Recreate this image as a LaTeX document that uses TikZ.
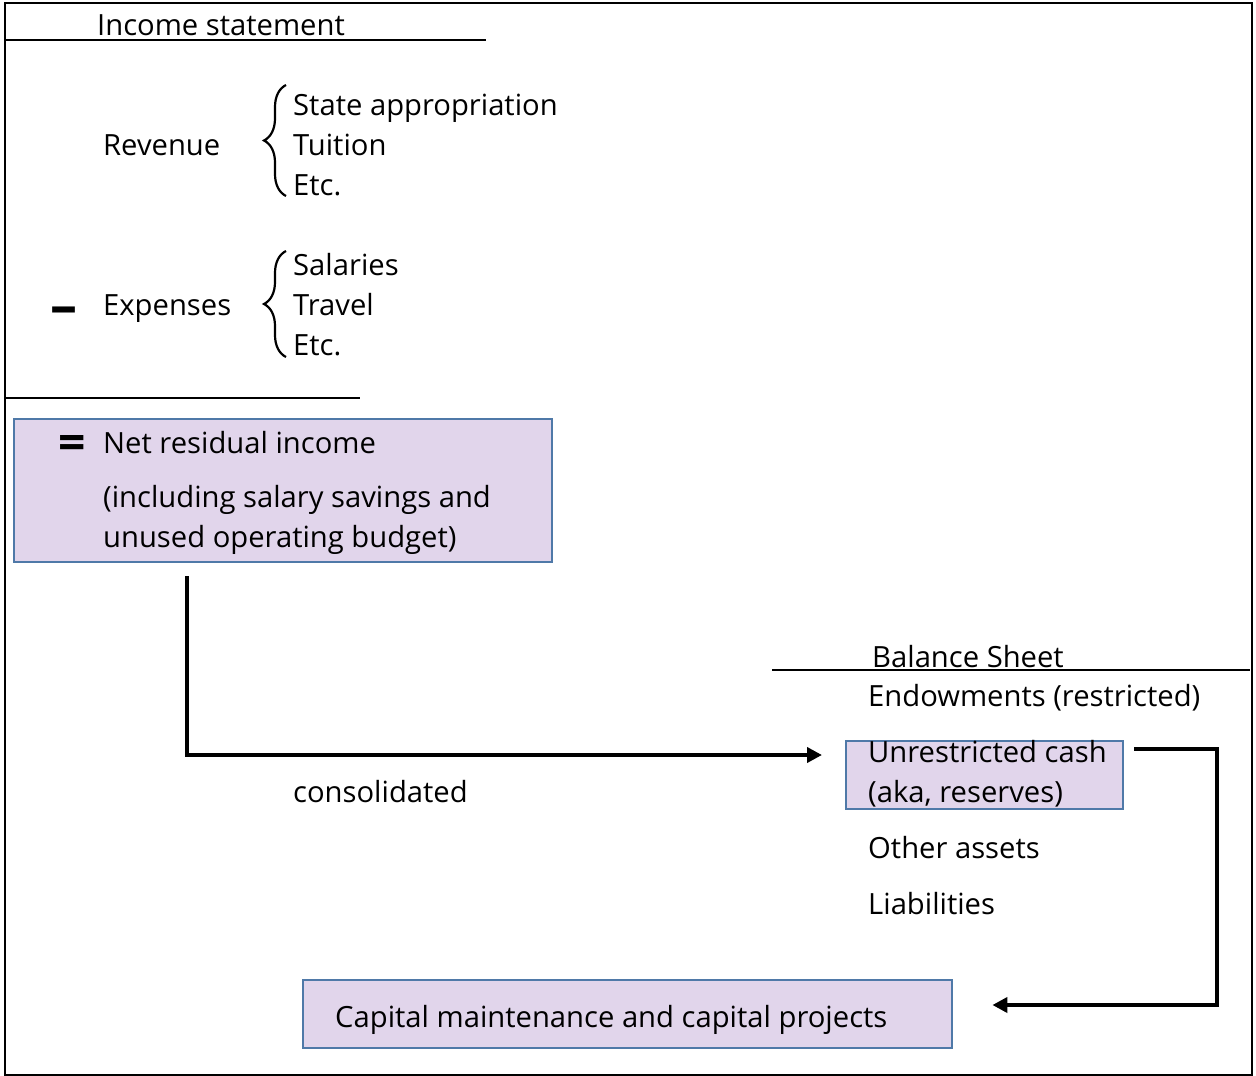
\documentclass[tikz,border=0pt]{standalone}
\usepackage{fontspec}
\setmainfont{Open Sans}
\usetikzlibrary{decorations.pathreplacing,arrows.meta}
\definecolor{boxfill}{HTML}{E1D5EB}
\definecolor{boxline}{HTML}{4F79A8}
\begin{document}
\begin{tikzpicture}[x=1pt,y=-1pt,
  txt/.style={anchor=base west, inner sep=0pt, font=\fontsize{29.2}{40}\selectfont},
  hbox/.style={draw=boxline, fill=boxfill, line width=2.4pt, anchor=north west, inner sep=0pt},
  conn/.style={line width=4pt, -{Triangle[length=15pt,width=15pt]}},
  rule/.style={line width=2pt},
  brc/.style={decorate, decoration={brace, amplitude=22pt}, line width=2.2pt}]
\useasboundingbox (0,0) rectangle (1256,1076);
\draw[line width=2pt] (5,3) rectangle (1252,1075);

% Income statement
\node[txt] (inc) at (97,35) {Income statement};
\coordinate (incL) at (5,40);
\coordinate (incR) at (486,40);
\draw[rule] (incL) -- (incR);

\node[txt] (rev) at (103,155) {Revenue};
\coordinate (b1t) at (286,85);
\coordinate (b1b) at (286,196);
\draw[brc] (b1b) -- (b1t);
\node[txt] (r1) at (293,115) {State appropriation};
\node[txt] (r2) at (293,155) {Tuition};
\node[txt] (r3) at (293,195) {Etc.};

\node[txt, font=\fontsize{54}{54}\selectfont\bfseries] (minus) at (50,324) {–};
\node[txt] (exp) at (103,315) {Expenses};
\coordinate (b2t) at (286,251);
\coordinate (b2b) at (286,357);
\draw[brc] (b2b) -- (b2t);
\node[txt] (e1) at (293,275) {Salaries};
\node[txt] (e2) at (293,315) {Travel};
\node[txt] (e3) at (293,355) {Etc.};

\coordinate (sumL) at (5,398);
\coordinate (sumR) at (360,398);
\draw[line width=1.2pt] (sumL) -- (sumR);

% Net residual box
\node[hbox, minimum width=538pt, minimum height=143pt] (box1) at (13,418) {};
\node[txt, font=\fontsize{48}{48}\selectfont\bfseries] (eq) at (58,459) {=};
\node[txt] (n1) at (103,453) {Net residual income};
\node[txt] (n2) at (103,507) {(including salary savings and};
\node[txt] (n3) at (103,547) {unused operating budget)};

\node[txt] (cons) at (293,802) {consolidated};

% Balance sheet
\node[txt] (bal) at (872,667) {Balance Sheet};
\coordinate (balL) at (772,670);
\coordinate (balR) at (1250,670);
\draw[rule] (balL) -- (balR);
\node[txt] (endw) at (868,706) {Endowments (restricted)};
\node[hbox, minimum width=277pt, minimum height=68pt] (box2) at (845,740) {};
\node[txt] (u1) at (868,762) {Unrestricted cash};
\node[txt] (u2) at (868,802) {(aka, reserves)};
\node[txt] (oth) at (868,858) {Other assets};
\node[txt] (lia) at (868,914) {Liabilities};

% Capital box
\node[hbox, minimum width=649pt, minimum height=68pt] (box3) at (302,979) {};
\node[txt] (cap) at (335,1027) {Capital maintenance and capital projects};

% connectors
\draw[conn] ([xshift=174pt,yshift=-13pt]box1.south west) |- ([xshift=-23pt,yshift=-15pt]box2.north west);
\draw[conn] ([xshift=10pt,yshift=-9pt]box2.north east) -- ++(83,0) |- ([xshift=39pt,yshift=-26pt]box3.north east);
\end{tikzpicture}
\end{document}
